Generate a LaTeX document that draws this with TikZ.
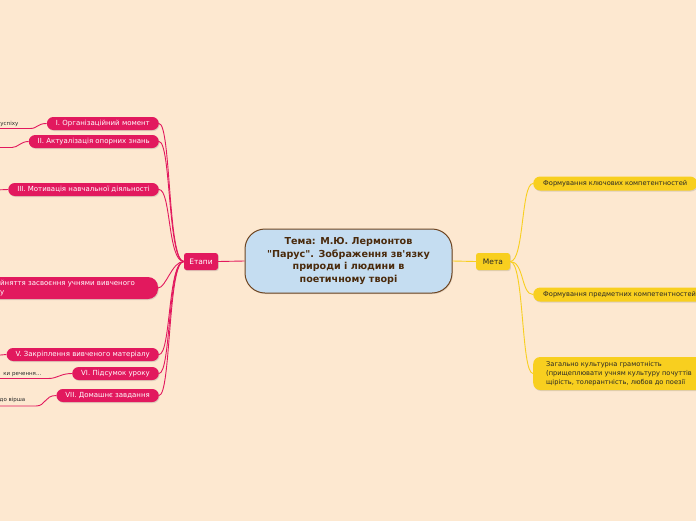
\documentclass[tikz,border=0pt]{standalone}
\usepackage{fontspec}
\setmainfont{DejaVu Sans}
\usetikzlibrary{shadows}
\definecolor{bg}{HTML}{FDE8D0}
\definecolor{crim}{HTML}{E2195E}
\definecolor{yel}{HTML}{F8CF1F}
\definecolor{cfill}{HTML}{C5DDF1}
\definecolor{cbord}{HTML}{6E4521}
\definecolor{ctext}{HTML}{4A2A0C}
\definecolor{leaft}{HTML}{2A2A2A}
\begin{document}
\begin{tikzpicture}[x=1pt,y=-1pt,
  shad/.style={drop shadow={shadow xshift=0.8pt,shadow yshift=-1pt,opacity=0.25}},
  stage/.style={shad,fill=crim,text=white,rounded corners=6.5pt,minimum height=13pt,
    inner xsep=9pt,inner ysep=0pt,font=\fontsize{7}{8}\selectfont,anchor=east},
  goal/.style={shad,fill=yel,text=black!85,rounded corners=7pt,minimum height=14pt,
    inner xsep=10pt,inner ysep=0pt,font=\fontsize{6.65}{8}\selectfont,anchor=west},
  hub/.style={shad,rounded corners=2.5pt,minimum width=34pt,minimum height=17pt,
    inner sep=0pt,font=\fontsize{7.5}{9}\selectfont},
  central/.style={shad,fill=cfill,draw=cbord,line width=1pt,rounded corners=20pt,
    minimum width=207pt,minimum height=64pt,align=center,text=ctext,
    font=\fontsize{9.6}{12.4}\selectfont\bfseries},
  cline/.style={crim,line width=0.9pt},
  yline/.style={yel,line width=0.9pt},
  leaf/.style={text=leaft,font=\fontsize{5.5}{6}\selectfont,inner sep=0pt}]
\useasboundingbox (0,0) rectangle (696,520);
\clip (0,0) rectangle (696,520);
\fill[bg] (-5,-5) rectangle (701,525);

% central and hubs
\node[central] (c) at (348.5,261) {Тема: М.Ю. Лермонтов\\\textquotedbl Парус\textquotedbl. Зображення зв\textquotesingle язку\\природи і людини в\\поетичному творі};
\node[hub,fill=crim,text=white] (e) at (201,261.5) {Етапи};
\node[hub,fill=yel,text=black!85] (m) at (493,261.5) {Мета};
\draw[cline] (e.east) -- (c.west);
\draw[yline] (c.east) -- (m.west);

% stages
\node[stage] (s1) at (159,123.5) {I. Організаційний момент};
\node[stage] (s2) at (159,141.5) {II. Актуалізація опорних знань};
\node[stage] (s3) at (159,189.5) {III. Мотивація навчальної діяльності};
\fill[crim,shad,rounded corners=10pt] (-30,277) rectangle (158,299);
\node[anchor=west,text=white,inner sep=0pt,align=left,
  font=\fontsize{7}{9}\selectfont] (s4) at (0,288) {йняття засвоєння учнями вивченого\\у};
\coordinate (s4e) at (158,288);
\node[stage] (s5) at (159,354.5) {V. Закріплення вивченого матеріалу};
\node[stage] (s6) at (159,373.5) {VI. Підсумок уроку};
\node[stage] (s7) at (159,395.5) {VII. Домашнє завдання};

\foreach \s in {s1,s2,s3,s5,s6,s7}{
  \draw[cline] (e.west) .. controls +(-16,0) and +(12,0) .. (\s.east);
}
\draw[cline] (e.west) .. controls +(-12,0) and +(8,0) .. (s4e);

% leaves
\coordinate (l1) at (30,128.5); \coordinate (l1x) at (-5,128.5);
\draw[cline] (s1.west) .. controls +(-10,0) and +(8,0) .. (l1) -- (l1x);
\node[leaf,anchor=base east] (t1) at (18.5,125.5) {успіху};
\coordinate (l2) at (12,147.5); \coordinate (l2x) at (-5,147.5);
\draw[cline] (s2.west) .. controls +(-8,0) and +(6,0) .. (l2) -- (l2x);
\coordinate (l3x) at (-5,190);
\draw[cline] (s3.west) -- (l3x);
\coordinate (l5x) at (-5,355.5);
\draw[cline] (s5.west) -- (l5x);
\coordinate (l6) at (48,378.5); \coordinate (l6x) at (-5,378.5);
\draw[cline] (s6.west) .. controls +(-12,0) and +(10,0) .. (l6) -- (l6x);
\node[leaf,anchor=base east] (t6) at (41.5,375.5) {ки речення...};
\coordinate (l7) at (36,406); \coordinate (l7x) at (-5,406);
\draw[cline] (s7.west) .. controls +(-12,0) and +(10,0) .. (l7) -- (l7x);
\node[leaf,anchor=base east] (t7) at (25.5,401.5) {до вірша};

% goals
\node[goal] (g1) at (533,183.5) {Формування ключових компетентностей};
\node[goal] (g2) at (533,294.5) {Формування предметних компетентностей};
\node[goal,align=left,minimum height=33pt,inner xsep=13pt,
  font=\fontsize{6.65}{9}\selectfont] (g3) at (533,373.5)
  {Загально культурна грамотність\\(прищеплювати учням культуру почуттів\\щірість, толерантність, любов до поезії};
\foreach \g in {g1,g2,g3}{
  \draw[yline] (m.east) .. controls +(14,0) and +(-12,0) .. (\g.west);
}
\end{tikzpicture}
\end{document}
